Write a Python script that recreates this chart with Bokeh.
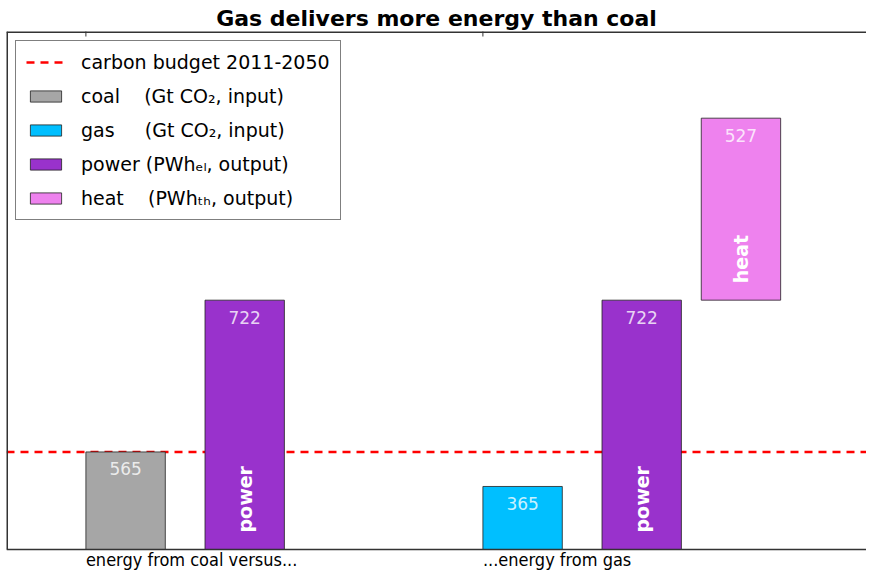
import math
from bokeh.plotting import figure
from bokeh.models import Range1d, Legend, LegendItem
from bokeh.core.properties import value
from bokeh.embed import file_html
from bokeh.resources import INLINE

# ---------------- data ----------------
title_text = "Gas delivers more energy than coal"
group_labels = ["energy from coal versus...", "...energy from gas"]
input_names = ["coal", "gas"]
input_values = [565, 365]          # Gt CO2, input
power_values = [722, 722]          # PWh_el, output
heat_values = [527]                # PWh_th, output (gas only)
heat_groups = [1]
carbon_budget = 565                # Gt CO2, 2011-2050
legend_labels = [
    "carbon budget 2011-2050",
    "coal\u00a0\u00a0\u00a0\u00a0(Gt CO\u2082, input)",
    "gas\u00a0\u00a0\u00a0\u00a0\u00a0(Gt CO\u2082, input)",
    "power (PWh\u2091\u2097, output)",
    "heat\u00a0\u00a0\u00a0\u00a0(PWh\u209c\u2095, output)",
]

# ---------------- layout / style ----------------
FONT = "DejaVu Sans"
COND = "DejaVu Sans Condensed"
COAL_C, GAS_C, POWER_C, HEAT_C = "#a6a6a6", "#00bfff", "#9932cc", "#ee82ee"
FRAME_C = "#333333"
W, H = 866, 570
LEFT, TOP = 6, 31
frame_w, frame_h = W - LEFT, H - TOP
base_px = 21                       # space below the bars' baseline for the group names
px_per_unit = 397.0
bar_w = 0.2
power_off = 0.3
heat_off = 0.55
x_lo = -0.2
x_hi = x_lo + frame_w / px_per_unit
in_top, out_top = 3000.0, 1500.0
in_lo = -in_top * base_px / (frame_h - base_px)
out_lo = -out_top * base_px / (frame_h - base_px)

group_pos = list(range(len(group_labels)))

p = figure(width=W, height=H, x_range=Range1d(x_lo, x_hi), y_range=Range1d(in_lo, in_top),
           output_backend="svg", toolbar_location=None,
           x_axis_location=None, y_axis_location=None,
           min_border_left=LEFT, min_border_right=0, min_border_top=TOP, min_border_bottom=0)
p.extra_y_ranges = {"output": Range1d(out_lo, out_top)}
p.grid.visible = False
p.outline_line_color = None
p.background_fill_color = "white"
p.border_fill_color = "white"

p.title.text = title_text
p.title.align = "center"
p.title.text_font = FONT
p.title.text_font_size = "22px"
p.title.text_font_style = "bold"
p.title.text_color = "black"
p.title.offset = 0
p.title.standoff = 2

# carbon budget line (drawn first, bars cover it)
budget_r = p.line(x=[x_lo, x_hi], y=[carbon_budget, carbon_budget], line_color="red",
                  line_width=2.5, line_dash="8 6")

# inputs (Gt CO2) on default range
in_x = [g + bar_w / 2 for g in group_pos]
coal_r = p.vbar(x=[in_x[0]], top=[input_values[0]], width=bar_w, fill_color=COAL_C,
                line_color="#222222", line_width=0.8)
gas_r = p.vbar(x=[in_x[1]], top=[input_values[1]], width=bar_w, fill_color=GAS_C,
               line_color="#222222", line_width=0.8)

# outputs (PWh) on output range
pw_x = [g + power_off + bar_w / 2 for g in group_pos]
power_r = p.vbar(x=pw_x, top=power_values, width=bar_w, fill_color=POWER_C,
                 line_color="#222222", line_width=0.8, y_range_name="output")
ht_x = [group_pos[g] + heat_off + bar_w / 2 for g in heat_groups]
ht_bottom = [power_values[g] for g in heat_groups]
ht_top = [b + h for b, h in zip(ht_bottom, heat_values)]
heat_r = p.vbar(x=ht_x, bottom=ht_bottom, top=ht_top, width=bar_w, fill_color=HEAT_C,
                line_color="#222222", line_width=0.8, y_range_name="output")

# frame lines: left, top (half clipped -> 1.5px) and the baseline
p.segment(x0=[x_lo], y0=[0], x1=[x_lo], y1=[in_top], line_color=FRAME_C, line_width=3)
p.segment(x0=[x_lo], y0=[in_top], x1=[x_hi], y1=[in_top], line_color=FRAME_C, line_width=3)
p.segment(x0=[x_lo], y0=[0], x1=[x_hi], y1=[0], line_color=FRAME_C, line_width=1.5)
# small inward ticks at the group positions on the top edge
p.scatter(x=group_pos, y=[in_top] * len(group_pos), marker="dash", angle=math.pi / 2,
          size=10, line_color=FRAME_C, line_width=1)

# value labels near the top of each bar
lbl_kw = dict(text_color="white", text_alpha=0.8, text_font=value(FONT), text_font_size="17px",
              text_align="center", text_baseline="middle", y_offset=17)
p.text(x=in_x, y=input_values, text=[str(v) for v in input_values], **lbl_kw)
p.text(x=pw_x, y=power_values, text=[str(v) for v in power_values], y_range_name="output", **lbl_kw)
p.text(x=ht_x, y=ht_top, text=[str(v) for v in heat_values], y_range_name="output", **lbl_kw)

# rotated names at the bottom of output bars
rot_kw = dict(text_color="white", text_font=value(FONT), text_font_size="19px",
              text_font_style="bold", angle=math.pi / 2, text_align="left",
              text_baseline="middle", y_offset=-17, y_range_name="output")
p.text(x=pw_x, y=[0] * len(pw_x), text=["power"] * len(pw_x), **rot_kw)
p.text(x=ht_x, y=ht_bottom, text=["heat"] * len(ht_x), **rot_kw)

# group names, left aligned at the group ticks, below the baseline
p.text(x=group_pos, y=[0] * len(group_pos), text=group_labels, text_align="left",
       text_baseline="middle", y_offset=10, text_font=value(COND),
       text_font_size="18px", text_color="black")

legend = Legend(items=[LegendItem(label=l, renderers=[r]) for l, r in
                       zip(legend_labels, [budget_r, coal_r, gas_r, power_r, heat_r])],
                location="top_left", margin=9, padding=10, spacing=12,
                label_height=20, glyph_height=14, glyph_width=39, label_standoff=16,
                label_text_font=FONT, label_text_font_size="19px", label_text_color="black",
                border_line_color="black", border_line_width=1, background_fill_alpha=1.0)
p.add_layout(legend, "center")

open("out.html", "w").write(file_html(p, INLINE))
